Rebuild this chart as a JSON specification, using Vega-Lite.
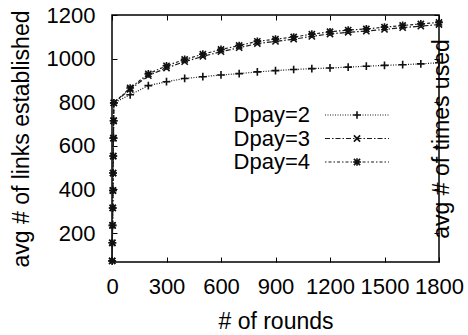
{
  "$schema": "https://vega.github.io/schema/vega-lite/v6.json",
  "width": 327,
  "height": 247,
  "autosize": "none",
  "padding": {"left": 112, "top": 15, "right": 29, "bottom": 73},
  "data": {"values": [
    {"r":1,"D":"2","v":72},{"r":2,"D":"2","v":155},{"r":3,"D":"2","v":235},{"r":4,"D":"2","v":315},{"r":5,"D":"2","v":395},{"r":6,"D":"2","v":475},{"r":7,"D":"2","v":553},{"r":8,"D":"2","v":635},{"r":9,"D":"2","v":715},{"r":10,"D":"2","v":797},
    {"r":100,"D":"2","v":834},{"r":200,"D":"2","v":876},{"r":300,"D":"2","v":894},{"r":400,"D":"2","v":909},{"r":500,"D":"2","v":917},{"r":600,"D":"2","v":925},{"r":700,"D":"2","v":931},{"r":800,"D":"2","v":939},{"r":900,"D":"2","v":945},{"r":1000,"D":"2","v":950},{"r":1100,"D":"2","v":954},{"r":1200,"D":"2","v":957},{"r":1300,"D":"2","v":961},{"r":1400,"D":"2","v":965},{"r":1500,"D":"2","v":969},{"r":1600,"D":"2","v":972},{"r":1700,"D":"2","v":976},{"r":1800,"D":"2","v":981},
    {"r":1,"D":"3","v":72},{"r":2,"D":"3","v":155},{"r":3,"D":"3","v":235},{"r":4,"D":"3","v":315},{"r":5,"D":"3","v":395},{"r":6,"D":"3","v":475},{"r":7,"D":"3","v":553},{"r":8,"D":"3","v":635},{"r":9,"D":"3","v":715},{"r":10,"D":"3","v":797},
    {"r":100,"D":"3","v":859},{"r":200,"D":"3","v":922},{"r":300,"D":"3","v":957},{"r":400,"D":"3","v":986},{"r":500,"D":"3","v":1010},{"r":600,"D":"3","v":1032},{"r":700,"D":"3","v":1050},{"r":800,"D":"3","v":1069},{"r":900,"D":"3","v":1079},{"r":1000,"D":"3","v":1089},{"r":1100,"D":"3","v":1102},{"r":1200,"D":"3","v":1113},{"r":1300,"D":"3","v":1121},{"r":1400,"D":"3","v":1126},{"r":1500,"D":"3","v":1134},{"r":1600,"D":"3","v":1142},{"r":1700,"D":"3","v":1149},{"r":1800,"D":"3","v":1156},
    {"r":1,"D":"4","v":72},{"r":2,"D":"4","v":155},{"r":3,"D":"4","v":235},{"r":4,"D":"4","v":315},{"r":5,"D":"4","v":395},{"r":6,"D":"4","v":475},{"r":7,"D":"4","v":553},{"r":8,"D":"4","v":635},{"r":9,"D":"4","v":715},{"r":10,"D":"4","v":797},
    {"r":100,"D":"4","v":865},{"r":200,"D":"4","v":930},{"r":300,"D":"4","v":967},{"r":400,"D":"4","v":996},{"r":500,"D":"4","v":1020},{"r":600,"D":"4","v":1042},{"r":700,"D":"4","v":1060},{"r":800,"D":"4","v":1079},{"r":900,"D":"4","v":1089},{"r":1000,"D":"4","v":1099},{"r":1100,"D":"4","v":1112},{"r":1200,"D":"4","v":1123},{"r":1300,"D":"4","v":1131},{"r":1400,"D":"4","v":1136},{"r":1500,"D":"4","v":1144},{"r":1600,"D":"4","v":1152},{"r":1700,"D":"4","v":1159},{"r":1800,"D":"4","v":1166}
  ]},
  "layer": [
    {
      "mark": {"type": "line", "color": "#1a1a1a", "strokeWidth": 1.2},
      "encoding": {
        "x": {"field": "r", "type": "quantitative", "scale": {"domain": [0, 1800], "nice": false, "zero": false},
          "axis": {"orient": "bottom", "title": "# of rounds", "values": [0, 300, 600, 900, 1200, 1500, 1800], "format": "d", "labelPadding": 19, "titlePadding": 13}},
        "y": {"field": "v", "type": "quantitative", "scale": {"domain": [67, 1200], "nice": false, "zero": false},
          "axis": {"orient": "left", "title": "avg # of links established", "values": [200, 400, 600, 800, 1000, 1200], "format": "d", "labelPadding": 22, "titlePadding": 13}},
        "strokeDash": {"field": "D", "type": "nominal",
          "scale": {"range": [[1, 1.5], [5, 2, 1.5, 2], [1.5, 2, 3, 2]]},
          "legend": {"orient": "none", "legendX": 234, "legendY": 89, "title": null, "padding": 0,
            "symbolType": "M-4,0H4", "symbolSize": 256, "symbolStrokeWidth": 1.2, "symbolStrokeColor": "#1a1a1a", "symbolFillColor": "transparent",
            "rowPadding": 1.5, "labelAlign": "right", "labelOffset": -58,
            "labelFontSize": 22, "labelColor": "black", "labelExpr": "'Dpay=' + datum.label"}}
      }
    },
    {
      "mark": {"type": "point", "filled": false, "stroke": "#111", "strokeWidth": 1.6, "size": 60, "opacity": 1},
      "encoding": {
        "x": {"field": "r", "type": "quantitative",
          "axis": {"orient": "top", "title": null, "labels": false, "values": [0, 300, 600, 900, 1200, 1500, 1800]}},
        "y": {"field": "v", "type": "quantitative",
          "axis": {"orient": "right", "title": "avg # of times used", "labels": false, "values": [200, 400, 600, 800, 1000, 1200], "titleAngle": 270, "titleBaseline": "alphabetic", "titlePadding": 9}},
        "shape": {"field": "D", "type": "nominal",
          "scale": {"domain": ["2", "3", "4"], "range": ["M-1,0H1M0,-1V1", "M-0.8,-0.8L0.8,0.8M-0.8,0.8L0.8,-0.8", "M-1,0H1M0,-1V1M-0.8,-0.8L0.8,0.8M-0.8,0.8L0.8,-0.8"]},
          "legend": {"orient": "none", "legendX": 234, "legendY": 89, "title": null, "padding": 0,
            "symbolSize": 60, "symbolStrokeWidth": 1.6, "symbolStrokeColor": "#111", "symbolFillColor": "transparent",
            "rowPadding": 1.5, "labelFontSize": 22, "labelExpr": "''"}}
      }
    }
  ],
  "config": {
    "font": "Liberation Sans",
    "view": {"stroke": "black", "strokeWidth": 1.5},
    "axis": {"labelFontSize": 22, "titleFontSize": 23, "titleFontWeight": "normal", "labelColor": "black", "titleColor": "black",
      "tickColor": "black", "tickSize": -5, "tickWidth": 1, "domain": false, "grid": false, "labelFlush": false, "labelOverlap": false},
    "legend": {"labelFont": "Liberation Sans"}
  }
}
